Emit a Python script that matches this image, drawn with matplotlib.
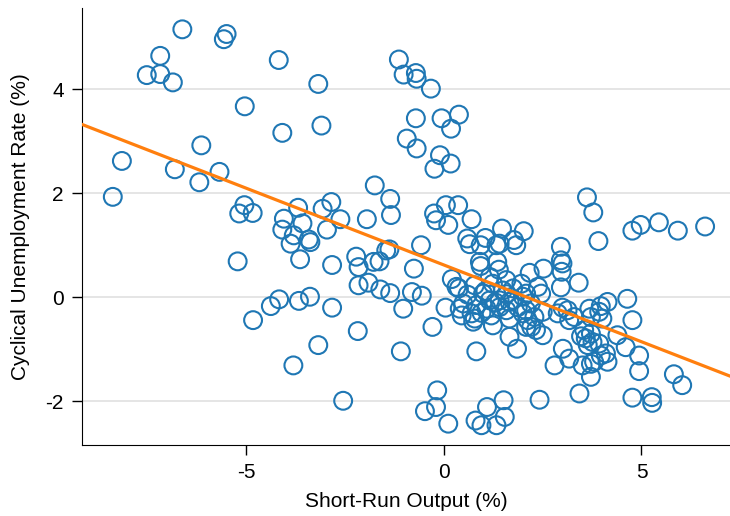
import matplotlib.pyplot as plt
import numpy as np

# Points (écart de production, chômage cyclique), en %
output_gap = [
    -6.62, -5.50, -5.57, -7.18, -7.52, -7.18, -6.86, -4.18, -3.18, -1.14, -1.02, -0.71, -0.69, -0.33,
    -5.04, -4.09, -3.10, -0.71, -0.06, 0.38, 0.18, -0.94, -0.69, -0.10, 0.17, -0.24,
    -8.15, -8.38, -6.14, -6.81, -6.19, -5.68, -5.05, -5.18, -4.84, -3.69, -4.05, -3.58, -3.07, -2.85,
    -2.62, -1.95, -1.75, -1.36, -1.34,
    3.62, 3.78, 3.91, 4.77, 4.98, 5.44, 5.92, 6.61,
    -4.09, -3.80, -3.88, -3.42, -3.38, -2.96, -3.64, -5.22, -2.83, -2.22, -2.16, -1.78, -1.63, -1.46,
    -1.38, -0.76, -2.16, -1.91, -1.61, -1.36, -1.03, -4.17, -4.38, -3.67, -3.39, -2.83, -4.83, -2.18,
    -3.18, -1.09, -3.81, -2.55,
    -0.25, -0.20, 0.11, 0.05, 0.36, 0.70, -0.58, -0.81, -0.56, -0.29, 0.04, 0.82,
    0.59, 0.65, 1.05, 0.93, 1.47, 1.41, 1.33, 1.77, 1.83, 2.02,
    0.91, 0.93, 1.35, 1.39, 0.20, 0.38, 0.78, 1.16, 1.24, 1.58, 1.49, 1.75, 1.96, 2.00,
    0.40, 0.45, 0.70, 0.78, 0.74, 1.08, 1.20, 1.24, 1.41, 1.58, 1.66, 1.87, 2.00, 2.12, 2.08, 1.66, 1.85,
    0.49, 0.82, 1.16, 1.41, 1.66, 0.99, 1.58, 0.32, 0.60, 1.05, 1.30, 0.95, 1.75, 2.20,
    2.17, 2.52, 2.96, 2.96, 3.00, 2.98, 2.96, 3.41, 2.38, 2.46, 2.08, 4.64, 4.14, 3.97, 3.68, 3.00,
    2.08, 2.29, 2.50, 2.21, 2.50, 2.33, 2.88, 3.13, 3.17, 3.30, 3.72, 3.93, 4.01, 4.77, 4.39, 4.60,
    4.94, 4.94,
    3.55, 3.72, 3.59, 3.76, 3.64, 3.93, 3.47, 3.01, 3.17, 2.80, 3.51, 3.72, 3.80, 3.72, 4.14, 4.10, 3.97,
    5.82, 6.03, 4.77, 5.26, 5.27, 3.43, 2.42,
    -0.17, -0.20, -0.48, 0.11, 1.09, 1.51, 1.54, 0.80, 0.95, 1.33,
]
unemployment = [
    5.15, 5.06, 4.96, 4.64, 4.27, 4.29, 4.13, 4.56, 4.10, 4.57, 4.28, 4.31, 4.20, 4.01,
    3.67, 3.16, 3.30, 3.44, 3.44, 3.51, 3.24, 3.05, 2.86, 2.73, 2.57, 2.47,
    2.62, 1.93, 2.92, 2.46, 2.21, 2.41, 1.77, 1.61, 1.62, 1.72, 1.51, 1.42, 1.70, 1.83,
    1.50, 1.50, 2.15, 1.89, 1.58,
    1.92, 1.63, 1.08, 1.28, 1.39, 1.44, 1.28, 1.36,
    1.30, 1.19, 1.03, 1.11, 1.06, 1.30, 0.73, 0.69, 0.62, 0.78, 0.58, 0.68, 0.69, 0.90,
    0.92, 0.55, 0.23, 0.28, 0.15, 0.08, -0.22, -0.04, -0.17, -0.07, 0.01, -0.20, -0.44, -0.65,
    -0.92, -1.04, -1.31, -1.99,
    1.61, 1.48, 1.39, 1.77, 1.77, 1.50, 1.00, 0.10, 0.03, -0.57, -0.20, -1.04,
    1.13, 1.02, 1.14, 1.00, 1.32, 1.03, 1.00, 1.10, 1.00, 1.27,
    0.68, 0.60, 0.68, 0.53, 0.35, 0.17, 0.23, 0.39, 0.26, 0.33, 0.13, 0.17, 0.26, 0.01,
    -0.22, -0.35, -0.31, -0.41, -0.47, -0.22, -0.35, -0.54, -0.19, -0.25, -0.41, -0.19, -0.31, -0.44,
    -0.57, -0.76, -0.99,
    -0.12, -0.15, -0.06, -0.06, -0.09, 0.07, 0.06, 0.20, 0.05, 0.12, -0.10, -0.30, -0.05, -0.12,
    0.47, 0.55, 0.97, 0.71, 0.65, 0.49, 0.19, 0.28, 0.20, 0.07, 0.07, -0.03, -0.09, -0.17, -0.22, -0.20,
    -0.25, -0.38, -0.28, -0.57, -0.73, -0.63, -0.31, -0.25, -0.44, -0.38, -0.38, -0.28, -0.41, -0.44,
    -0.73, -0.96, -1.12, -1.42,
    -0.63, -0.70, -0.79, -0.86, -0.92, -0.89, -0.75, -0.99, -1.18, -1.31, -1.31, -1.28, -1.24, -1.53,
    -1.24, -1.08, -1.12,
    -1.48, -1.69, -1.93, -1.92, -2.03, -1.85, -1.97,
    -1.79, -2.11, -2.19, -2.43, -2.11, -1.98, -2.30, -2.37, -2.46, -2.46,
]

# Droite de régression
pente = -0.295
ordonnee = 0.62

plt.rcParams['font.family'] = ['Liberation Sans', 'DejaVu Sans']
plt.rcParams['axes.unicode_minus'] = False

fig = plt.figure(figsize=(7.3, 5.16), dpi=100)
ax = fig.add_axes([0.1123, 0.1376, 0.8877, 0.8469])

ax.scatter(output_gap, unemployment, s=165, facecolors='none', edgecolors='#1f77b4', linewidths=1.5, zorder=3)

xmin, xmax = -9.16, 7.24
axe_x = np.array([xmin, xmax])
ax.plot(axe_x, ordonnee + pente * axe_x, color='#ff7f0e', linewidth=2.3, zorder=4)

ax.set_xlim(xmin, xmax)
ax.set_ylim(-2.84, 5.56)
ax.set_xticks([-5, 0, 5])
ax.set_yticks([-2, 0, 2, 4])
ax.set_xlabel('Short-Run Output (%)', fontsize=15, labelpad=7)
ax.set_ylabel('Cyclical Unemployment Rate (%)', fontsize=15, labelpad=11)
ax.tick_params(labelsize=15, direction='out', length=7, width=1, pad=6)

ax.spines['top'].set_visible(False)
ax.spines['right'].set_visible(False)
ax.grid(True, axis='y', color='#e3e3e3', linewidth=1.3)
ax.set_axisbelow(True)

fig.savefig('out.png', dpi=100)
